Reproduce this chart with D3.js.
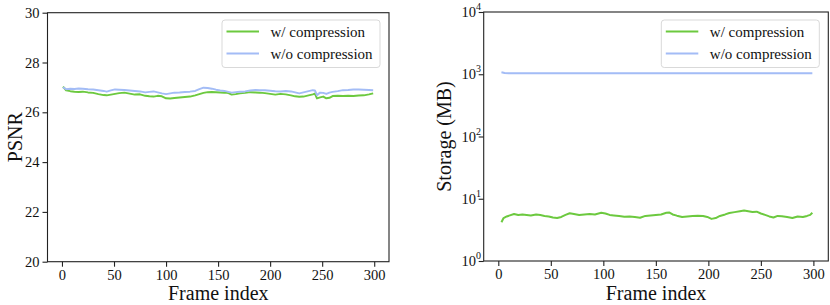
<!DOCTYPE html>
<html>
<head>
<meta charset="utf-8">
<script src="https://cdn.jsdelivr.net/npm/d3@7"></script>
<style>
  body { margin: 0; background: #fff; }
  svg { display: block; font-family: "Liberation Serif", "Times New Roman", serif; }
</style>
</head>
<body>
<div id="chart"></div>
<script>
// PSNR per frame (left panel)
const psnrFrames = [1, 4, 8, 12, 16, 20, 25, 30, 35, 40, 43, 47, 51, 55, 60, 65, 70, 75, 80, 84,
  88, 92, 96, 100, 104, 108, 113, 118, 123, 128, 132, 136, 140, 144, 148, 152, 156, 160, 163, 167,
  171, 176, 181, 186, 190, 195, 200, 205, 210, 215, 220, 224, 228, 232, 237, 241, 243, 245, 248, 251,
  254, 257, 260, 265, 270, 275, 280, 285, 290, 295, 299];
const psnrWith = [27.03, 26.88, 26.85, 26.83, 26.82, 26.83, 26.80, 26.78, 26.73, 26.69, 26.68, 26.71, 26.74, 26.77, 26.79, 26.75, 26.71, 26.72, 26.66, 26.64,
  26.63, 26.66, 26.64, 26.56, 26.55, 26.57, 26.59, 26.61, 26.63, 26.68, 26.73, 26.78, 26.81, 26.82, 26.81, 26.80, 26.79, 26.77, 26.71, 26.73,
  26.76, 26.78, 26.81, 26.80, 26.79, 26.77, 26.74, 26.71, 26.74, 26.72, 26.68, 26.64, 26.62, 26.63, 26.68, 26.72, 26.75, 26.56, 26.60, 26.63,
  26.56, 26.58, 26.65, 26.66, 26.65, 26.66, 26.65, 26.67, 26.68, 26.72, 26.76];
const psnrWithout = [27.00, 26.93, 26.95, 26.94, 26.96, 26.95, 26.93, 26.92, 26.89, 26.86, 26.83, 26.88, 26.92, 26.91, 26.90, 26.88, 26.86, 26.84, 26.80, 26.82,
  26.84, 26.80, 26.76, 26.73, 26.76, 26.79, 26.80, 26.82, 26.83, 26.86, 26.93, 26.99, 26.98, 26.95, 26.91, 26.88, 26.86, 26.82, 26.79, 26.81,
  26.83, 26.84, 26.88, 26.90, 26.89, 26.89, 26.87, 26.85, 26.84, 26.86, 26.84, 26.80, 26.76, 26.80, 26.85, 26.89, 26.88, 26.69, 26.79, 26.78,
  26.74, 26.79, 26.82, 26.85, 26.89, 26.90, 26.92, 26.92, 26.91, 26.90, 26.89];

// Storage per frame in MB (right panel)
const storageFrames = [3, 5, 8, 11, 15, 19, 23, 27, 31, 36, 40, 44, 48, 52, 56, 60, 64, 68, 72, 77,
  82, 87, 92, 98, 102, 106, 110, 115, 120, 125, 130, 135, 140, 145, 150, 155, 160, 163, 166, 170,
  175, 180, 185, 190, 195, 199, 203, 207, 211, 216, 220, 225, 230, 234, 238, 242, 246, 250, 254, 258,
  262, 266, 270, 275, 280, 285, 290, 294, 297, 299];
const storageWith = [4.2, 4.9, 5.2, 5.4, 5.7, 5.5, 5.6, 5.5, 5.4, 5.6, 5.5, 5.3, 5.2, 5.0, 4.9, 5.1, 5.5, 5.85, 5.7, 5.5,
  5.6, 5.7, 5.6, 5.95, 5.8, 5.5, 5.4, 5.3, 5.15, 5.2, 5.1, 4.95, 5.3, 5.4, 5.5, 5.6, 5.95, 6.0, 5.6, 5.35,
  5.1, 5.2, 5.3, 5.35, 5.3, 5.1, 4.75, 4.9, 5.3, 5.6, 5.9, 6.1, 6.3, 6.45, 6.3, 6.15, 6.2, 5.8, 5.5, 5.2,
  5.0, 5.3, 5.25, 5.1, 4.9, 5.2, 5.1, 5.3, 5.5, 5.95];
const storageWithoutFrames = [3, 6, 10, 299];
const storageWithout = [1075, 1045, 1040, 1040];

const xTicks = [0, 50, 100, 150, 200, 250, 300];
const psnrTicks = [20, 22, 24, 26, 28, 30];
const storageExps = [0, 1, 2, 3, 4];
const seriesNames = ["w/ compression", "w/o compression"];

const green = "#6cc93f";
const blue = "#a3bcf6";

const svg = d3.select("#chart").append("svg")
  .attr("width", 830)
  .attr("height", 305);

function drawPanel(p) {
  const g = svg.append("g");
  const x = d3.scaleLinear().domain([-13.9, 314.2]).range([p.left, p.right]);
  const y = p.y;

  // tick marks + labels
  const xAxis = g.append("g")
    .attr("transform", `translate(0,${p.bottom})`)
    .call(d3.axisBottom(x).tickValues(xTicks).tickSize(5).tickPadding(3));
  xAxis.select(".domain").remove();
  xAxis.selectAll("text").attr("font-size", 14.5).attr("font-family", "Liberation Serif").attr("fill", "#111");
  xAxis.selectAll("line").attr("stroke", "#222").attr("stroke-width", 1.1);

  const yAxis = g.append("g")
    .attr("transform", `translate(${p.left},0)`)
    .call(p.yAxis);
  yAxis.select(".domain").remove();
  yAxis.selectAll("line").attr("stroke", "#222").attr("stroke-width", 1.1);
  yAxis.selectAll("text").attr("font-size", 14.5).attr("font-family", "Liberation Serif").attr("fill", "#111");

  const line = d3.line().x(d => x(d[0])).y(d => y(d[1]));
  p.series.forEach(s => {
    g.append("path")
      .datum(d3.zip(s.frames, s.values))
      .attr("fill", "none")
      .attr("stroke", s.color)
      .attr("stroke-width", 2)
      .attr("stroke-linejoin", "round")
      .attr("d", line);
  });

  // frame
  g.append("rect")
    .attr("x", p.left).attr("y", p.top)
    .attr("width", p.right - p.left).attr("height", p.bottom - p.top)
    .attr("fill", "none").attr("stroke", "#222").attr("stroke-width", 1.1);

  // legend
  const lg = g.append("g").attr("transform", `translate(${p.right - 167},20)`);
  lg.append("rect")
    .attr("width", 158).attr("height", 47.5).attr("rx", 3)
    .attr("fill", "#fff").attr("fill-opacity", 0.8)
    .attr("stroke", "#d9d9d9").attr("stroke-width", 1);
  p.series.forEach((s, i) => {
    const yy = 11.5 + i * 22;
    lg.append("line")
      .attr("x1", 4.5).attr("x2", 37).attr("y1", yy).attr("y2", yy)
      .attr("stroke", s.color).attr("stroke-width", 2);
    lg.append("text")
      .attr("x", 48.5).attr("y", yy + 5)
      .attr("font-size", 15).attr("fill", "#111")
      .text(seriesNames[i]);
  });

  // axis labels
  g.append("text")
    .attr("x", (p.left + p.right) / 2).attr("y", 300)
    .attr("text-anchor", "middle").attr("font-size", 20).attr("fill", "#111")
    .text("Frame index");
  g.append("text")
    .attr("transform", `translate(${p.labelX},${(p.top + p.bottom) / 2}) rotate(-90)`)
    .attr("text-anchor", "middle").attr("font-size", 20).attr("fill", "#111")
    .text(p.yLabel);
}

// left panel
const yPsnr = d3.scaleLinear().domain([20, 30]).range([261.7, 12.7]);
drawPanel({
  left: 47.5, right: 389, top: 12.7, bottom: 261.7,
  y: yPsnr,
  yAxis: d3.axisLeft(yPsnr).tickValues(psnrTicks).tickSize(5).tickPadding(3),
  yLabel: "PSNR", labelX: 22,
  series: [
    { frames: psnrFrames, values: psnrWith, color: green },
    { frames: psnrFrames, values: psnrWithout, color: blue }
  ]
});

// right panel
const yStorage = d3.scaleLog().domain([1, 10000]).range([261, 12]);
drawPanel({
  left: 483.7, right: 828.3, top: 12, bottom: 261,
  y: yStorage,
  yAxis: d3.axisLeft(yStorage).tickValues(storageExps.map(e => Math.pow(10, e))).tickSize(5).tickPadding(3).tickFormat(() => ""),
  yLabel: "Storage (MB)", labelX: 451,
  series: [
    { frames: storageFrames, values: storageWith, color: green },
    { frames: storageWithoutFrames, values: storageWithout, color: blue }
  ]
});

// log tick labels with superscripts
storageExps.forEach(e => {
  const t = svg.append("text")
    .attr("x", 481).attr("y", yStorage(Math.pow(10, e)) + 5)
    .attr("text-anchor", "end").attr("font-size", 14.5).attr("fill", "#111");
  t.append("tspan").text("10");
  t.append("tspan").attr("font-size", 10).attr("dy", -7).text(e);
});
</script>
</body>
</html>
